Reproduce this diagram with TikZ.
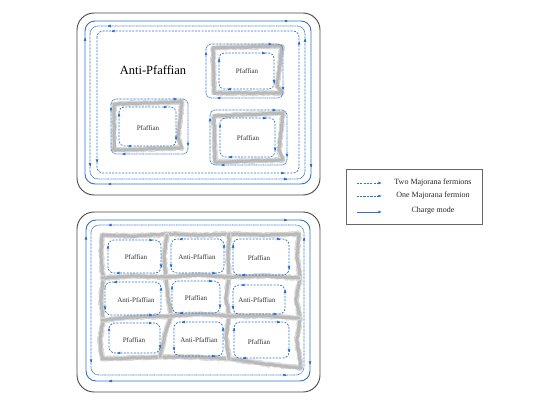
\documentclass[tikz,border=0pt]{standalone}
\usepackage{fontspec}
\setmainfont{Liberation Serif}
\usetikzlibrary{arrows.meta,decorations.pathmorphing}
\definecolor{edgeblue}{RGB}{45,115,205}
\definecolor{framegray}{RGB}{70,70,70}
\tikzset{
 charge/.style={draw=edgeblue, line width=0.9pt},
 majone/.style={draw=edgeblue, line width=0.7pt, dash pattern=on 0.8pt off 0.6pt},
 majtwo/.style={draw=edgeblue, line width=0.7pt, dash pattern=on 2pt off 1.3pt},
 tipst/.style={solid, -{Latex[length=3.6pt,width=3pt]}},
 frame/.style={draw=framegray, line width=0.9pt, rounded corners=17pt},
 wallA/.style={draw=gray!30, line width=5pt, line join=round, line cap=round, decorate, decoration={random steps,segment length=1.2pt,amplitude=0.9pt}},
 wallB/.style={draw=gray!55, line width=3pt, line join=round, line cap=round, decorate, decoration={random steps,segment length=1.4pt,amplitude=0.5pt}},
 lbl/.style={font=\fontsize{7}{8}\selectfont, text=black!80, inner sep=0pt},
 leg/.style={font=\fontsize{8}{9}\selectfont, text=black!85, inner sep=0pt},
}
\newcommand\edgeloop[7]{%
  \draw[#1] (#2,#3) rectangle (#4,#5);
  \pgfmathsetmacro\myAH{#6*(#4-#2)}%
  \pgfmathsetmacro\myAV{#6*(#5-#3)}%
  \ifnum#7=1
   \draw[#1,tipst] (#4-\myAH-1,#3) -- (#4-\myAH,#3);
   \draw[#1,tipst] (#4,#5-\myAV-1) -- (#4,#5-\myAV);
   \draw[#1,tipst] (#2+\myAH+1,#5) -- (#2+\myAH,#5);
   \draw[#1,tipst] (#2,#3+\myAV+1) -- (#2,#3+\myAV);
  \else
   \draw[#1,tipst] (#2+\myAH+1,#3) -- (#2+\myAH,#3);
   \draw[#1,tipst] (#2,#5-\myAV-1) -- (#2,#5-\myAV);
   \draw[#1,tipst] (#4-\myAH-1,#5) -- (#4-\myAH,#5);
   \draw[#1,tipst] (#4,#3+\myAV+1) -- (#4,#3+\myAV);
  \fi}
\newcommand\wallpath[1]{%
  \draw[wallA] #1;
  \draw[wallB] #1;}
\begin{document}
\begin{tikzpicture}[x=1pt,y=-1pt]
\pgfmathsetseed{7}
\useasboundingbox (0,0) rectangle (540,417);
% ---------------- top panel ----------------
\draw[frame] (77,13) rectangle (320,195);
\edgeloop{charge,rounded corners=10pt}{85}{21}{311}{184}{0.1}{1}
\edgeloop{majone,rounded corners=8pt}{90}{26}{305}{179}{0.08}{-1}
\edgeloop{majtwo,rounded corners=6pt}{97}{31}{299}{173}{0.07}{-1}
\node[font=\fontsize{12.5}{14}\selectfont, inner sep=0pt] (ap) at (153,70) {Anti-Pfaffian};
% island 1
\wallpath{(213,48) -- (282,46) -- (277,86) -- (282,93) -- (214,93) -- cycle}
\edgeloop{majone,rounded corners=5pt}{206}{44}{283}{98}{0.14}{1}
\edgeloop{majtwo,rounded corners=5pt}{219}{53}{274}{89}{0.15}{1}
\node[lbl] (p1) at (247,71) {Pfaffian};
% island 2
\wallpath{(114,104) -- (182,102) -- (178,138) -- (182,148) -- (114,150) -- cycle}
\edgeloop{majone,rounded corners=5pt}{111}{99}{188}{154}{0.14}{1}
\edgeloop{majtwo,rounded corners=5pt}{119}{107}{176}{146}{0.15}{1}
\node[lbl] (p2) at (148,128) {Pfaffian};
% island 3
\wallpath{(214,116) -- (283,113) -- (279,150) -- (283,160) -- (215,162) -- cycle}
\edgeloop{majone,rounded corners=5pt}{210}{110}{287}{165}{0.14}{1}
\edgeloop{majtwo,rounded corners=5pt}{220}{118}{275}{157}{0.15}{1}
\node[lbl] (p3) at (248,138) {Pfaffian};
% ---------------- bottom panel ----------------
\draw[frame] (77,212) rectangle (320,392);
\edgeloop{charge,rounded corners=10pt}{86}{220}{310}{381}{0.1}{1}
\edgeloop{majone,rounded corners=8pt}{91}{225}{304}{375}{0.08}{-1}
% walls
\wallpath{(102,235) -- (135,236) -- (167,234) -- (200,235) -- (229,234) -- (265,235) -- (299,234) -- (297,255) -- (300,278) -- (296,300) -- (300,318) -- (297,340) -- (301,368) -- (265,364) -- (230,359) -- (195,357) -- (160,357) -- (130,358) -- (102,359) -- (100,340) -- (103,320) -- (101,300) -- (103,278) -- (101,255) -- cycle}
\wallpath{(167,235) -- (164,256) -- (166,277) -- (168,297) -- (171,316) -- (165,335) -- (160,357)}
\wallpath{(229,234) -- (228,256) -- (229,277) -- (226,297) -- (229,316) -- (226,337) -- (229,359)}
\wallpath{(102,278) -- (135,276) -- (166,277) -- (198,275) -- (229,277) -- (265,276) -- (299,278)}
\wallpath{(102,320) -- (135,317) -- (170,316) -- (200,314) -- (229,316) -- (265,316) -- (299,318)}
% cells
\edgeloop{majtwo,rounded corners=6pt}{108}{240}{161}{273}{0.15}{1}
\node[lbl] (c11) at (136,257) {Pfaffian};
\edgeloop{majtwo,rounded corners=6pt}{171}{239}{224}{273}{0.15}{-1}
\node[lbl] (c12) at (197,257) {Anti-Pfaffian};
\edgeloop{majtwo,rounded corners=6pt}{233}{239}{289}{275}{0.15}{1}
\node[lbl] (c13) at (259,258) {Pfaffian};
\edgeloop{majtwo,rounded corners=6pt}{105}{282}{161}{315}{0.15}{-1}
\node[lbl] (c21) at (136,300) {Anti-Pfaffian};
\edgeloop{majtwo,rounded corners=6pt}{172}{281}{220}{313}{0.15}{1}
\node[lbl] (c22) at (196,298) {Pfaffian};
\edgeloop{majtwo,rounded corners=6pt}{233}{285}{285}{314}{0.15}{-1}
\node[lbl] (c23) at (257,300) {Anti-Pfaffian};
\edgeloop{majtwo,rounded corners=6pt}{109}{323}{160}{353}{0.15}{1}
\node[lbl] (c31) at (134,340) {Pfaffian};
\edgeloop{majtwo,rounded corners=6pt}{174}{322}{223}{356}{0.15}{-1}
\node[lbl] (c32) at (199,340) {Anti-Pfaffian};
\edgeloop{majtwo,rounded corners=6pt}{234}{322}{289}{358}{0.15}{1}
\node[lbl] (c33) at (259,342) {Pfaffian};
% ---------------- legend ----------------
\draw[draw=gray!80!black, line width=0.6pt] (346,169) rectangle (482,224);
\coordinate (l1a) at (357,183); \coordinate (l1b) at (382,183);
\coordinate (l2a) at (357,196); \coordinate (l2b) at (382,196);
\coordinate (l3a) at (357,212); \coordinate (l3b) at (382,212);
\draw[majtwo, -{Latex[length=3.6pt,width=3pt]}] (l1a) -- (l1b);
\draw[majone, -{Latex[length=3.6pt,width=3pt]}] (l2a) -- (l2b);
\draw[charge, -{Latex[length=3.6pt,width=3pt]}] (l3a) -- (l3b);
\node[leg] (t1) at (433,183) {Two Majorana fermions};
\node[leg] (t2) at (433,196) {One Majorana fermion};
\node[leg] (t3) at (433,211) {Charge mode};
\end{tikzpicture}
\end{document}
